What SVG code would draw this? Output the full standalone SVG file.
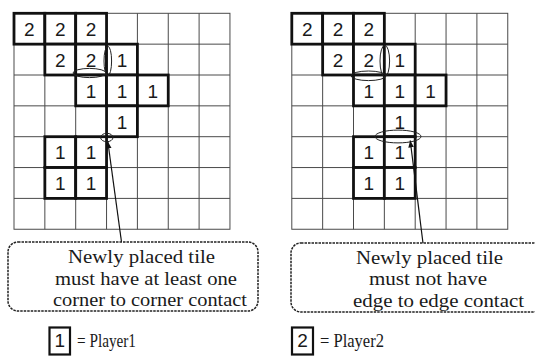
<svg xmlns="http://www.w3.org/2000/svg" width="535" height="356" viewBox="0 0 535 356">
<style>
.grid{fill:none;stroke:#4a4a4a;stroke-width:1}
.tile rect{fill:#fff;stroke:#111;stroke-width:2.8}
.tile text,.lg text.d{font-family:"Liberation Sans",Arial,sans-serif;font-size:19px;fill:#1a1a1a;text-anchor:middle}
.mark{fill:none;stroke:#222;stroke-width:1}
.conn{stroke:#111;stroke-width:1.2;fill:none}
.callout rect{fill:#fff;stroke:#222;stroke-width:1.5;stroke-dasharray:2.5 1}
.callout text,.lg text.t{font-family:"Liberation Serif","Times New Roman",serif;font-size:19px;fill:#1a1a1a}
.lg text.t{font-size:18.5px}
.lg rect{fill:#fff;stroke:#111;stroke-width:2.2}
</style>
<defs>
<marker id="ah" viewBox="0 0 10 10" refX="10" refY="5" markerWidth="7" markerHeight="7" markerUnits="userSpaceOnUse" orient="auto"><path d="M0,1 L10,5 L0,9 z" fill="#111"/></marker>
</defs>
<rect width="535" height="356" fill="#fff"/>

<!-- Left grid -->
<g id="gridL" class="grid">
<rect x="14" y="13.3" width="215.95" height="215.95"/>
<path d="M44.85,13.3V229.25M75.7,13.3V229.25M106.55,13.3V229.25M137.4,13.3V229.25M168.25,13.3V229.25M199.1,13.3V229.25M14,44.15H229.95M14,75H229.95M14,105.85H229.95M14,136.7H229.95M14,167.55H229.95M14,198.4H229.95"/>
</g>
<g id="tilesL">
<g id="L-r0c0" class="tile"><rect x="14" y="13.3" width="30.85" height="30.85"/><text x="29.4" y="36">2</text></g>
<g id="L-r0c1" class="tile"><rect x="44.85" y="13.3" width="30.85" height="30.85"/><text x="60.3" y="36">2</text></g>
<g id="L-r0c2" class="tile"><rect x="75.7" y="13.3" width="30.85" height="30.85"/><text x="91.1" y="36">2</text></g>
<g id="L-r1c1" class="tile"><rect x="44.85" y="44.15" width="30.85" height="30.85"/><text x="60.3" y="66.8">2</text></g>
<g id="L-r1c2" class="tile"><rect x="75.7" y="44.15" width="30.85" height="30.85"/><text x="91.1" y="66.8">2</text></g>
<g id="L-r1c3" class="tile"><rect x="106.55" y="44.15" width="30.85" height="30.85"/><text x="122" y="66.8">1</text></g>
<g id="L-r2c2" class="tile"><rect x="75.7" y="75" width="30.85" height="30.85"/><text x="91.1" y="97.7">1</text></g>
<g id="L-r2c3" class="tile"><rect x="106.55" y="75" width="30.85" height="30.85"/><text x="122" y="97.7">1</text></g>
<g id="L-r2c4" class="tile"><rect x="137.4" y="75" width="30.85" height="30.85"/><text x="152.8" y="97.7">1</text></g>
<g id="L-r3c3" class="tile"><rect x="106.55" y="105.85" width="30.85" height="30.85"/><text x="122" y="128.5">1</text></g>
<g id="L-r4c1" class="tile"><rect x="44.85" y="136.7" width="30.85" height="30.85"/><text x="60.3" y="159.4">1</text></g>
<g id="L-r4c2" class="tile"><rect x="75.7" y="136.7" width="30.85" height="30.85"/><text x="91.1" y="159.4">1</text></g>
<g id="L-r5c1" class="tile"><rect x="44.85" y="167.55" width="30.85" height="30.85"/><text x="60.3" y="190.2">1</text></g>
<g id="L-r5c2" class="tile"><rect x="75.7" y="167.55" width="30.85" height="30.85"/><text x="91.1" y="190.2">1</text></g>
</g>
<g id="marksL" class="mark">
<ellipse cx="107.8" cy="61" rx="3.8" ry="14.8"/>
<ellipse cx="89.5" cy="73" rx="16.5" ry="4.6"/>
<ellipse cx="106.8" cy="137.5" rx="6.2" ry="4.2"/>
</g>

<!-- Right grid -->
<g id="gridR" class="grid">
<rect x="291.8" y="13.3" width="215.95" height="215.95"/>
<path d="M322.65,13.3V229.25M353.5,13.3V229.25M384.35,13.3V229.25M415.2,13.3V229.25M446.05,13.3V229.25M476.9,13.3V229.25M291.8,44.15H507.75M291.8,75H507.75M291.8,105.85H507.75M291.8,136.7H507.75M291.8,167.55H507.75M291.8,198.4H507.75"/>
</g>
<g id="tilesR">
<g id="R-r0c0" class="tile"><rect x="291.8" y="13.3" width="30.85" height="30.85"/><text x="307.2" y="36">2</text></g>
<g id="R-r0c1" class="tile"><rect x="322.65" y="13.3" width="30.85" height="30.85"/><text x="338.1" y="36">2</text></g>
<g id="R-r0c2" class="tile"><rect x="353.5" y="13.3" width="30.85" height="30.85"/><text x="368.9" y="36">2</text></g>
<g id="R-r1c1" class="tile"><rect x="322.65" y="44.15" width="30.85" height="30.85"/><text x="338.1" y="66.8">2</text></g>
<g id="R-r1c2" class="tile"><rect x="353.5" y="44.15" width="30.85" height="30.85"/><text x="368.9" y="66.8">2</text></g>
<g id="R-r1c3" class="tile"><rect x="384.35" y="44.15" width="30.85" height="30.85"/><text x="399.8" y="66.8">1</text></g>
<g id="R-r2c2" class="tile"><rect x="353.5" y="75" width="30.85" height="30.85"/><text x="368.9" y="97.7">1</text></g>
<g id="R-r2c3" class="tile"><rect x="384.35" y="75" width="30.85" height="30.85"/><text x="399.8" y="97.7">1</text></g>
<g id="R-r2c4" class="tile"><rect x="415.2" y="75" width="30.85" height="30.85"/><text x="430.6" y="97.7">1</text></g>
<g id="R-r3c3" class="tile"><rect x="384.35" y="105.85" width="30.85" height="30.85"/><text x="399.8" y="128.5">1</text></g>
<g id="R-r4c2" class="tile"><rect x="353.5" y="136.7" width="30.85" height="30.85"/><text x="368.9" y="159.4">1</text></g>
<g id="R-r4c3" class="tile"><rect x="384.35" y="136.7" width="30.85" height="30.85"/><text x="399.8" y="159.4">1</text></g>
<g id="R-r5c2" class="tile"><rect x="353.5" y="167.55" width="30.85" height="30.85"/><text x="368.9" y="190.2">1</text></g>
<g id="R-r5c3" class="tile"><rect x="384.35" y="167.55" width="30.85" height="30.85"/><text x="399.8" y="190.2">1</text></g>
</g>
<g id="marksR" class="mark">
<ellipse cx="384.8" cy="61" rx="4.8" ry="15.8"/>
<ellipse cx="368.5" cy="75.8" rx="17.5" ry="4.8"/>
<ellipse cx="398" cy="136.5" rx="23" ry="6.4"/>
</g>

<!-- Connectors -->
<g id="connectors">
<line class="conn" x1="121.5" y1="242" x2="107.8" y2="141.5" marker-end="url(#ah)"/>
<line class="conn" x1="423" y1="243" x2="410.2" y2="140.5" marker-end="url(#ah)"/>
</g>

<!-- Callouts -->
<g id="calloutL" class="callout">
<rect x="8" y="242" width="250" height="69" rx="10"/>
<text x="68" y="263" textLength="147" lengthAdjust="spacingAndGlyphs">Newly placed tile</text>
<text x="55" y="284.5" textLength="182" lengthAdjust="spacingAndGlyphs">must have at least one</text>
<text x="53" y="306" textLength="194" lengthAdjust="spacingAndGlyphs">corner to corner contact</text>
</g>
<g id="calloutR" class="callout">
<rect x="291" y="243" width="252" height="69" rx="10"/>
<text x="356" y="263.5" textLength="147" lengthAdjust="spacingAndGlyphs">Newly placed tile</text>
<text x="369" y="285" textLength="118" lengthAdjust="spacingAndGlyphs">must not have</text>
<text x="353" y="307" textLength="171" lengthAdjust="spacingAndGlyphs">edge to edge contact</text>
</g>

<!-- Legend -->
<g id="legend1" class="lg">
<rect x="49.5" y="327.5" width="20.5" height="27"/>
<text class="d" x="59.8" y="347">1</text>
<text class="t" x="77" y="347" textLength="59" lengthAdjust="spacingAndGlyphs">= Player1</text>
</g>
<g id="legend2" class="lg">
<rect x="292" y="327.5" width="21" height="27"/>
<text class="d" x="302.5" y="347">2</text>
<text class="t" x="320" y="347" textLength="64" lengthAdjust="spacingAndGlyphs">= Player2</text>
</g>
</svg>
